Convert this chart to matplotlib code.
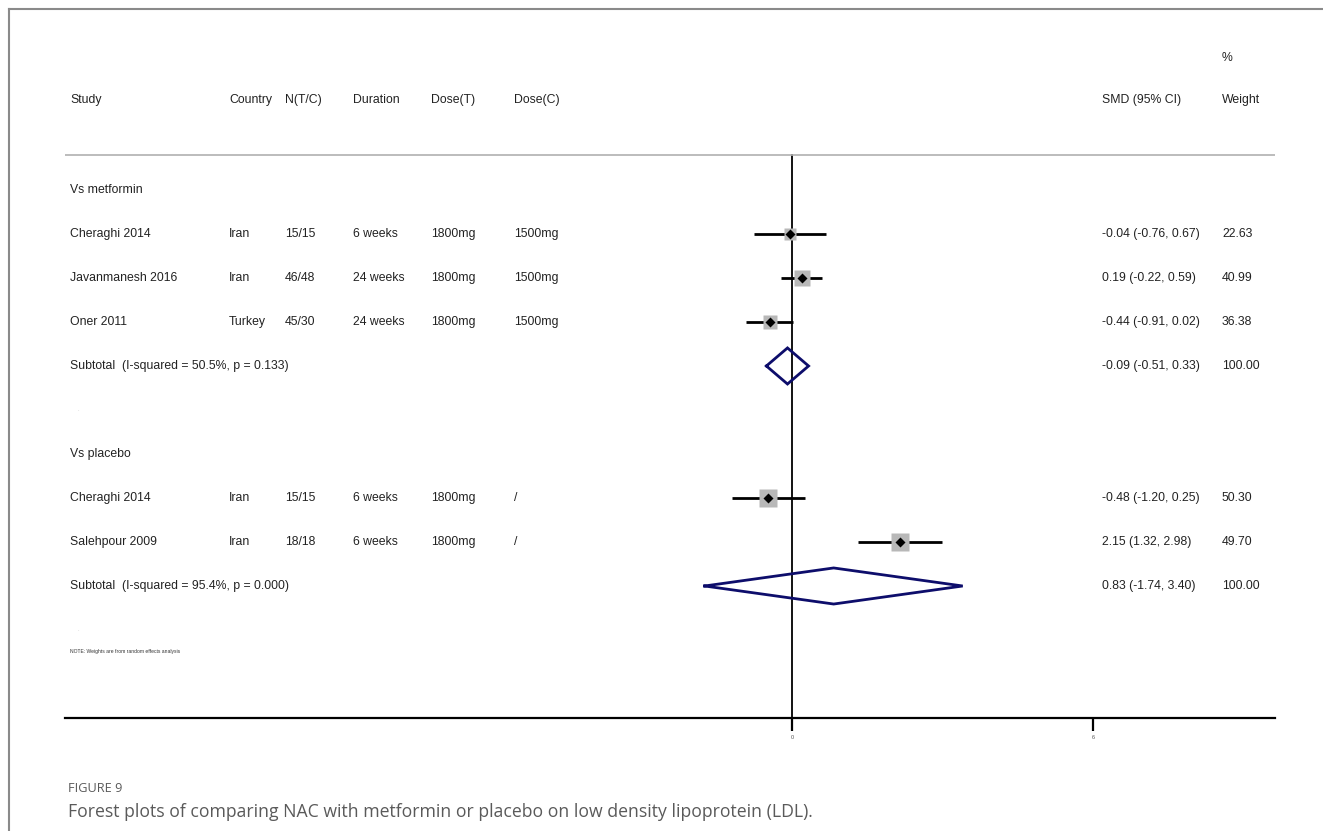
import numpy as np
import matplotlib
matplotlib.use('Agg')
import matplotlib.pyplot as plt
from matplotlib.transforms import blended_transform_factory

plt.rcParams['font.family'] = ['Liberation Sans', 'DejaVu Sans']

# data
studies = ['Cheraghi 2014', 'Javanmanesh 2016', 'Oner 2011', 'Cheraghi 2014', 'Salehpour 2009']
countries = ['Iran', 'Iran', 'Turkey', 'Iran', 'Iran']
n_tc = ['15/15', '46/48', '45/30', '15/15', '18/18']
durations = ['6 weeks', '24 weeks', '24 weeks', '6 weeks', '6 weeks']
dose_t = ['1800mg', '1800mg', '1800mg', '1800mg', '1800mg']
dose_c = ['1500mg', '1500mg', '1500mg', '/', '/']
smd = [-0.04, 0.19, -0.44, -0.48, 2.15]
lo = [-0.76, -0.22, -0.91, -1.20, 1.32]
hi = [0.67, 0.59, 0.02, 0.25, 2.98]
weights = [22.63, 40.99, 36.38, 50.30, 49.70]
study_rows = [1, 2, 3, 7, 8]

groups = ['Vs metformin', 'Vs placebo']
group_rows = [0, 6]
sub_labels = ['Subtotal  (I-squared = 50.5%, p = 0.133)',
              'Subtotal  (I-squared = 95.4%, p = 0.000)']
sub_smd = [-0.09, 0.83]
sub_lo = [-0.51, -1.74]
sub_hi = [0.33, 3.40]
sub_rows = [4, 9]

W, H = 1323, 831
fig = plt.figure(figsize=(W / 100, H / 100), dpi=100)
ax = fig.add_axes([65 / W, 1 - 718 / H, (1275 - 65) / W, (718 - 10) / H])
ax.set_xlim(-14.48, 9.62)
ax.set_ylim(12.0, -4.09)
for s in ['top', 'left', 'right']:
    ax.spines[s].set_visible(False)
ax.spines['bottom'].set_linewidth(1.6)
ax.set_yticks([])
ax.set_xticks([0, 6])
ax.set_xticklabels(['0', '6'], fontsize=4, color='#555555')
ax.tick_params(axis='x', direction='out', length=9, width=1.6, pad=3)

# reference line and header rule
ax.plot([0, 0], [-0.8, 12], color='black', lw=1.3)
ax.axhline(-0.8, color='#b0b0b0', lw=1.2)

# studies
for i in range(len(smd)):
    y = study_rows[i]
    ax.plot([lo[i], hi[i]], [y, y], color='black', lw=2, solid_capstyle='butt')
    side = 1.75 * np.sqrt(weights[i])
    ax.plot(smd[i], y, marker='s', ms=side, color='#b8b8b8', mec='none', zorder=3)
    ax.plot(smd[i], y, marker='D', ms=5, color='black', mec='none', zorder=4)

# subtotal diamonds
for j in range(len(sub_smd)):
    y = sub_rows[j]
    xs = [sub_lo[j], sub_smd[j], sub_hi[j], sub_smd[j], sub_lo[j]]
    ys = [y, y - 0.41, y, y + 0.41, y]
    ax.plot(xs, ys, color='#0d0d6b', lw=2, solid_joinstyle='miter', zorder=5)

# text columns
tr = blended_transform_factory(fig.transFigure, ax.transData)
fs = 8.8
tc = '#222222'
cols_x = [70, 229, 285, 353, 431, 514]
headers = ['Study', 'Country', 'N(T/C)', 'Duration', 'Dose(T)', 'Dose(C)']
for x, h in zip(cols_x, headers):
    ax.text(x / W, -2.05, h, transform=tr, fontsize=fs, va='center', color=tc)
ax.text(1102 / W, -2.05, 'SMD (95% CI)', transform=tr, fontsize=fs, va='center', color=tc)
ax.text(1222 / W, -2.05, 'Weight', transform=tr, fontsize=fs, va='center', color=tc)
ax.text(1222 / W, -3.0, '%', transform=tr, fontsize=fs, va='center', color=tc)

for g, r in zip(groups, group_rows):
    ax.text(70 / W, r, g, transform=tr, fontsize=fs, va='center', color=tc)

for i in range(len(smd)):
    y = study_rows[i]
    vals = [studies[i], countries[i], n_tc[i], durations[i], dose_t[i], dose_c[i]]
    for x, v in zip(cols_x, vals):
        ax.text(x / W, y, v, transform=tr, fontsize=fs, va='center', color=tc)
    ax.text(1102 / W, y, f'{smd[i]:.2f} ({lo[i]:.2f}, {hi[i]:.2f})', transform=tr,
            fontsize=fs, va='center', color=tc)
    ax.text(1222 / W, y, f'{weights[i]:.2f}', transform=tr, fontsize=fs, va='center', color=tc)

for j in range(len(sub_smd)):
    y = sub_rows[j]
    ax.text(70 / W, y, sub_labels[j], transform=tr, fontsize=fs, va='center', color=tc)
    ax.text(1102 / W, y, f'{sub_smd[j]:.2f} ({sub_lo[j]:.2f}, {sub_hi[j]:.2f})', transform=tr,
            fontsize=fs, va='center', color=tc)
    ax.text(1222 / W, y, '100.00', transform=tr, fontsize=fs, va='center', color=tc)

ax.text(77 / W, 5, '.', transform=tr, fontsize=4, va='center', color='#bbbbbb')
ax.text(77 / W, 10, '.', transform=tr, fontsize=4, va='center', color='#bbbbbb')
ax.text(70 / W, 10.5, 'NOTE: Weights are from random effects analysis', transform=tr,
        fontsize=3.6, va='center', color='#333333')

# frame lines
fig.add_artist(plt.Line2D([9 / W, 9 / W], [0, 1 - 9 / H], color='#8a8a8a', lw=1.5))
fig.add_artist(plt.Line2D([9 / W, 1], [1 - 9 / H, 1 - 9 / H], color='#8a8a8a', lw=1.5))

# caption
fig.text(68 / W, 1 - 788 / H, 'FIGURE 9', fontsize=9.2, color='#5a5a5a', va='center',
         family=['Open Sans', 'DejaVu Sans'])
fig.text(68 / W, 1 - 812 / H,
         'Forest plots of comparing NAC with metformin or placebo on low density lipoprotein (LDL).',
         fontsize=12.7, color='#5a5a5a', va='center', family=['Open Sans', 'DejaVu Sans'])

fig.savefig('out.png', dpi=100)
